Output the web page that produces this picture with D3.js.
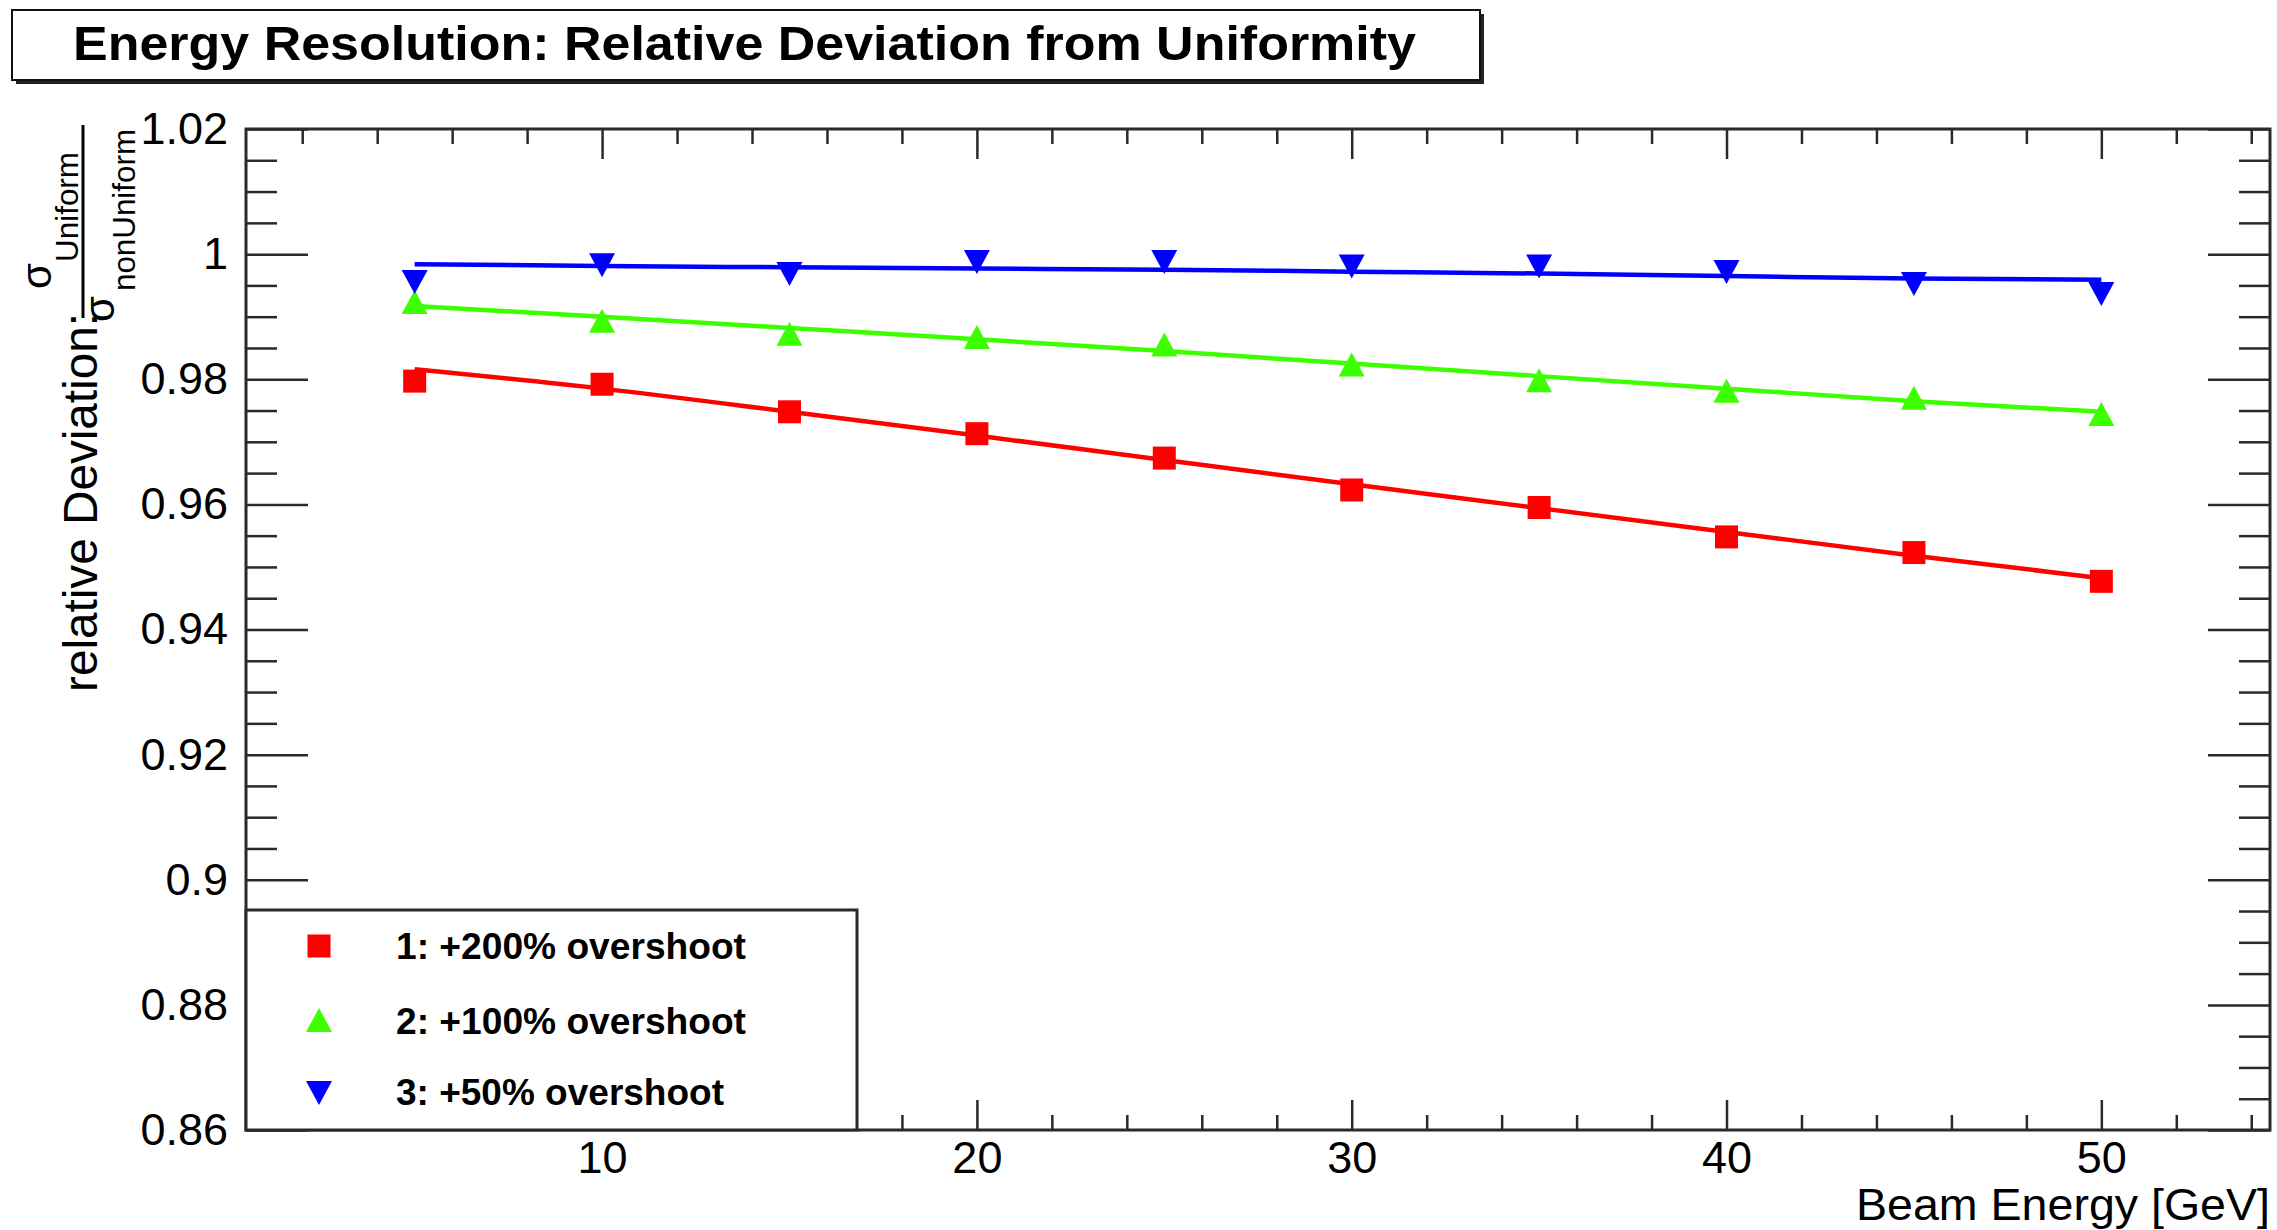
<!DOCTYPE html>
<html>
<head>
<meta charset="utf-8">
<script src="https://cdn.jsdelivr.net/npm/d3@7"></script>
<style>
  html, body { margin: 0; padding: 0; background: #fff; }
  svg { display: block; }
  text { font-family: "Liberation Sans", Arial, Helvetica, sans-serif; fill: #000; }
</style>
</head>
<body>
<svg id="chart" width="2277" height="1230"></svg>
<script>
// Beam energies (GeV) at which the resolution ratio was measured
const energies = [5, 10, 15, 20, 25, 30, 35, 40, 45, 50];

// sigma_Uniform / sigma_nonUniform for each overshoot scenario
const overshoot200 = [0.9797, 0.9792, 0.9748, 0.9713, 0.9674, 0.9623, 0.9595, 0.9548, 0.9523, 0.9477];
const overshoot100 = [0.9922, 0.9892, 0.9871, 0.9866, 0.9854, 0.9822, 0.9797, 0.9780, 0.9769, 0.9743];
const overshoot50  = [0.9957, 0.9984, 0.9970, 0.9989, 0.9989, 0.9982, 0.9982, 0.9973, 0.9954, 0.9938];

// Fitted curves evaluated at the same energies
const fit200 = [0.9816, 0.9785, 0.9748, 0.9710, 0.9671, 0.9632, 0.9594, 0.9556, 0.9518, 0.9482];
const fit100 = [0.9917, 0.9900, 0.9882, 0.9864, 0.9845, 0.9825, 0.9805, 0.9785, 0.9765, 0.9748];
const fit50  = [0.9984, 0.9981, 0.9979, 0.9977, 0.9975, 0.9972, 0.9969, 0.9965, 0.9961, 0.9959];

const seriesNames = ["1: +200% overshoot", "2: +100% overshoot", "3: +50% overshoot"];

// Axis ticks and labels
const xMajorTicks = [10, 20, 30, 40, 50];
const xMinorTicks = [2, 4, 6, 8, 12, 14, 16, 18, 22, 24, 26, 28, 32, 34, 36, 38, 42, 44, 46, 48, 52, 54];
const yMajorTicks = [0.86, 0.88, 0.9, 0.92, 0.94, 0.96, 0.98, 1, 1.02];
const yMajorLabels = ["0.86", "0.88", "0.9", "0.92", "0.94", "0.96", "0.98", "1", "1.02"];
const yMinorTicks = [0.865, 0.87, 0.875, 0.885, 0.89, 0.895, 0.905, 0.91, 0.915, 0.925, 0.93, 0.935,
                     0.945, 0.95, 0.955, 0.965, 0.97, 0.975, 0.985, 0.99, 0.995, 1.005, 1.01, 1.015];

const series = [
  { name: seriesNames[0], values: overshoot200, fit: fit200, color: "#ff0000", marker: "square" },
  { name: seriesNames[1], values: overshoot100, fit: fit100, color: "#3cff00", marker: "up" },
  { name: seriesNames[2], values: overshoot50,  fit: fit50,  color: "#0000ff", marker: "down" }
];

const svg = d3.select("#chart");
const frame = { left: 246, right: 2270, top: 129, bottom: 1130 };

const x = d3.scaleLinear().domain([0.5, 54.5]).range([frame.left, frame.right]);
const y = d3.scaleLinear().domain([0.86, 1.02]).range([frame.bottom, frame.top]);

const axisColor = "#2a2a2a";

// ---- Title box with drop shadow ----
const title = svg.append("g");
title.append("rect").attr("x", 16).attr("y", 14).attr("width", 1468).attr("height", 70).attr("fill", "#222");
title.append("rect").attr("x", 12).attr("y", 10).attr("width", 1468).attr("height", 70)
  .attr("fill", "#fff").attr("stroke", "#111").attr("stroke-width", 2);
title.append("text").attr("x", 73).attr("y", 60)
  .attr("font-size", 49).attr("font-weight", "bold")
  .attr("textLength", 1343).attr("lengthAdjust", "spacingAndGlyphs")
  .text("Energy Resolution: Relative Deviation from Uniformity");

// ---- Axes ----
function styleAxis(g) {
  g.select(".domain").remove();
  g.selectAll(".tick line").attr("stroke", axisColor).attr("stroke-width", 2.5);
  g.selectAll(".tick text").attr("font-size", 45).attr("fill", "#000")
    .attr("font-family", '"Liberation Sans", Arial, sans-serif');
}

// bottom: majors with labels, minors without
svg.append("g").attr("transform", `translate(0,${frame.bottom})`)
  .call(d3.axisBottom(x).tickValues(xMajorTicks).tickFormat(d3.format("d")).tickSize(-30).tickPadding(11))
  .call(styleAxis);
svg.append("g").attr("transform", `translate(0,${frame.bottom})`)
  .call(d3.axisBottom(x).tickValues(xMinorTicks).tickFormat("").tickSize(-15))
  .call(styleAxis);
// top: mirrored ticks
svg.append("g").attr("transform", `translate(0,${frame.top})`)
  .call(d3.axisTop(x).tickValues(xMajorTicks).tickFormat("").tickSize(-30))
  .call(styleAxis);
svg.append("g").attr("transform", `translate(0,${frame.top})`)
  .call(d3.axisTop(x).tickValues(xMinorTicks).tickFormat("").tickSize(-15))
  .call(styleAxis);

// left: majors with labels, minors without
svg.append("g").attr("transform", `translate(${frame.left},0)`)
  .call(d3.axisLeft(y).tickValues(yMajorTicks)
    .tickFormat((d, i) => yMajorLabels[i]).tickSize(-62).tickPadding(18))
  .call(styleAxis);
svg.append("g").attr("transform", `translate(${frame.left},0)`)
  .call(d3.axisLeft(y).tickValues(yMinorTicks).tickFormat("").tickSize(-31))
  .call(styleAxis);
// right: mirrored ticks
svg.append("g").attr("transform", `translate(${frame.right},0)`)
  .call(d3.axisRight(y).tickValues(yMajorTicks).tickFormat("").tickSize(-62))
  .call(styleAxis);
svg.append("g").attr("transform", `translate(${frame.right},0)`)
  .call(d3.axisRight(y).tickValues(yMinorTicks).tickFormat("").tickSize(-31))
  .call(styleAxis);

// frame
svg.append("rect")
  .attr("x", frame.left).attr("y", frame.top)
  .attr("width", frame.right - frame.left).attr("height", frame.bottom - frame.top)
  .attr("fill", "none").attr("stroke", axisColor).attr("stroke-width", 3);

// ---- Axis titles ----
svg.append("text")
  .attr("x", frame.right).attr("y", 1220)
  .attr("text-anchor", "end").attr("font-size", 44)
  .attr("textLength", 414).attr("lengthAdjust", "spacingAndGlyphs")
  .text("Beam Energy [GeV]");

// y title: "relative Deviation:" followed by the sigma fraction, rotated
const yt = svg.append("g").attr("transform", "rotate(-90)");
yt.append("text").attr("x", -692).attr("y", 97)
  .attr("font-size", 48)
  .attr("textLength", 379).attr("lengthAdjust", "spacingAndGlyphs")
  .text("relative Deviation:");
yt.append("line").attr("x1", -318).attr("x2", -125).attr("y1", 83).attr("y2", 83)
  .attr("stroke", "#000").attr("stroke-width", 3);
yt.append("text").attr("x", -289).attr("y", 51).attr("font-size", 42).text("σ");
yt.append("text").attr("x", -262).attr("y", 78).attr("font-size", 32)
  .attr("textLength", 110).attr("lengthAdjust", "spacingAndGlyphs").text("Uniform");
yt.append("text").attr("x", -322).attr("y", 114).attr("font-size", 42).text("σ");
yt.append("text").attr("x", -291).attr("y", 135).attr("font-size", 32)
  .attr("textLength", 162).attr("lengthAdjust", "spacingAndGlyphs").text("nonUniform");

// ---- Marker shapes ----
function markerPath(type) {
  if (type === "square") return "M-11.5,-11.5H11.5V11.5H-11.5Z";
  if (type === "up") return "M0,-13L13,11L-13,11Z";
  return "M0,13L13,-11L-13,-11Z";
}

// ---- Fit curves ----
const plot = svg.append("g");
const line = d3.line()
  .x((d, i) => x(energies[i]))
  .y(d => y(d))
  .curve(d3.curveMonotoneX);

series.forEach(s => {
  plot.append("path")
    .datum(s.fit)
    .attr("d", line)
    .attr("fill", "none")
    .attr("stroke", s.color)
    .attr("stroke-width", 4.5);
});

// ---- Data points ----
series.forEach(s => {
  plot.selectAll(null)
    .data(s.values)
    .enter().append("path")
    .attr("transform", (d, i) => `translate(${x(energies[i])},${y(d)})`)
    .attr("d", markerPath(s.marker))
    .attr("fill", s.color);
});

// ---- Legend ----
const legend = svg.append("g");
legend.append("rect")
  .attr("x", frame.left).attr("y", 910)
  .attr("width", 857 - frame.left).attr("height", frame.bottom - 910)
  .attr("fill", "#fff").attr("stroke", axisColor).attr("stroke-width", 3);

const legendRows = [946, 1021, 1092];
const legendWidths = [350, 350, 328];
series.forEach((s, i) => {
  legend.append("path")
    .attr("transform", `translate(319,${legendRows[i]})`)
    .attr("d", markerPath(s.marker))
    .attr("fill", s.color);
  legend.append("text")
    .attr("x", 396).attr("y", legendRows[i] + 13)
    .attr("font-size", 36).attr("font-weight", "bold")
    .attr("textLength", legendWidths[i]).attr("lengthAdjust", "spacingAndGlyphs")
    .text(s.name);
});
</script>
</body>
</html>
